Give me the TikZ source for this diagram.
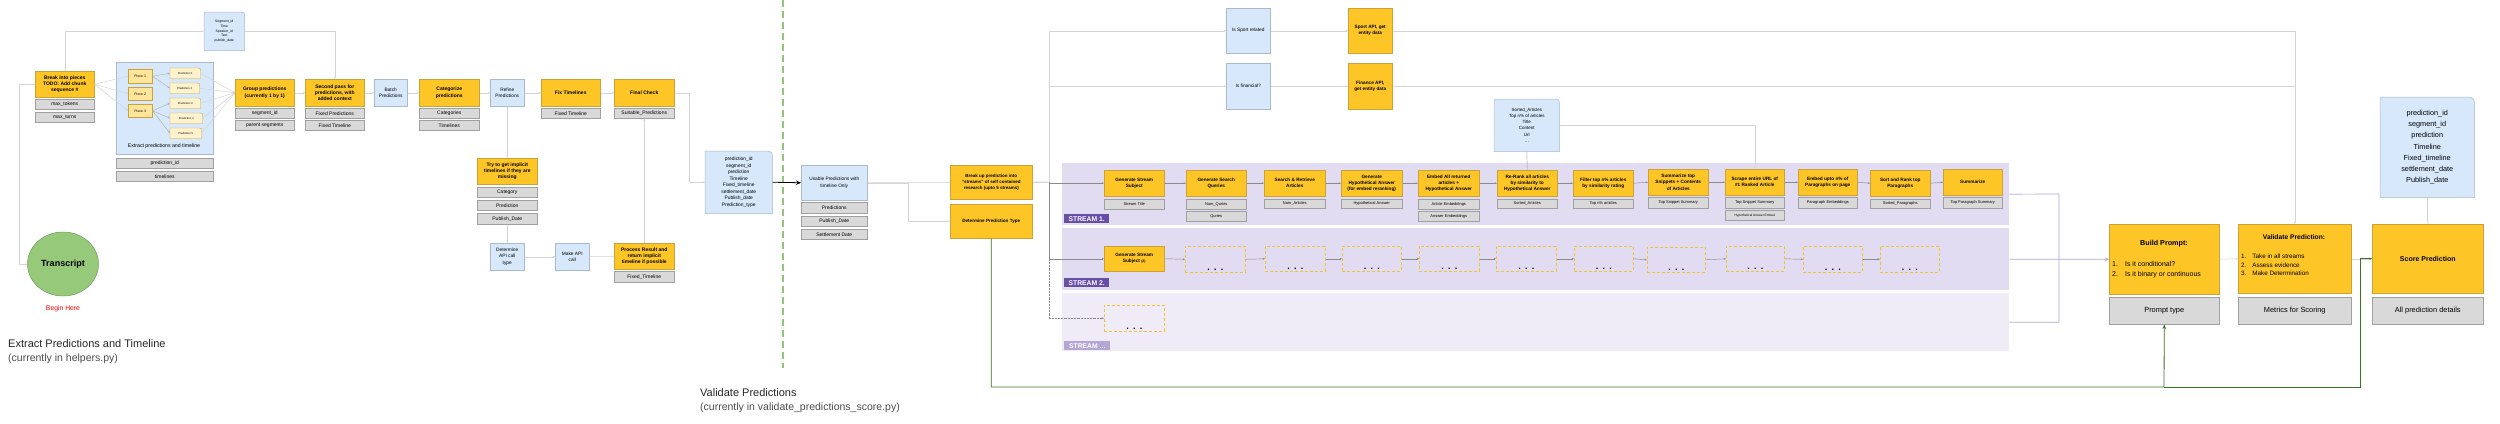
\documentclass[tikz,border=0pt]{standalone}
\usepackage{fontspec}
\setmainfont{Liberation Sans}
\usetikzlibrary{arrows.meta,shapes.geometric,backgrounds}

\definecolor{orF}{HTML}{FDC526}
\definecolor{orD}{HTML}{C9A33A}
\definecolor{grF}{HTML}{D9D9D9}
\definecolor{grD}{HTML}{A0A0A0}
\definecolor{blF}{HTML}{D7E8FB}
\definecolor{blD}{HTML}{A9B9CF}
\definecolor{pcF}{HTML}{FFE599}
\definecolor{pdF}{HTML}{FFF2CC}
\definecolor{bandA}{HTML}{E1DCF2}
\definecolor{bandB}{HTML}{EFECF7}
\definecolor{purD}{HTML}{674EA7}
\definecolor{purL}{HTML}{B4A7D6}
\definecolor{grnD}{HTML}{38761D}
\definecolor{grnL}{HTML}{93C47D}
\definecolor{lnL}{HTML}{D4D4D4}
\definecolor{lnM}{HTML}{8A8A8A}
\definecolor{dashO}{HTML}{F1C232}
\definecolor{cirF}{HTML}{97C97B}
\definecolor{cirD}{HTML}{6B9A55}

\newcommand\bx[7]{\node[#2,anchor=north west,minimum width={(#5-#3)*1pt},minimum height={(#6-#4)*1pt}] (#1) at (#3,#4) {#7};}
\newcommand\dbx[5]{\bx{#1}{dashbx}{#2}{#3}{#4}{#5}{}\node[dotsty,anchor=base] (#1dots) at ([yshift=2.5pt]#1.south) {.\hspace{4.3pt}.\hspace{4.3pt}.};}
\newcommand\noteout[2]{\draw[noteline] (#1.south west) -- (#1.north west) -- ([xshift=-#2pt]#1.north east) .. controls (#1.north east) .. ([yshift=-#2pt]#1.north east) -- (#1.south east) -- cycle;}
\newcommand\predout[1]{\draw[predline] (#1.south west) -- (#1.north west) -- ([xshift=-3pt]#1.north east) .. controls (#1.north east) .. ([yshift=-3pt]#1.north east) -- (#1.south east) -- cycle;}

\tikzset{
 basebx/.style={inner sep=0.5pt, align=center, line width=0.5pt},
 ob/.style={basebx, fill=orF, draw=orD, font=\fontsize{5}{6.3}\selectfont\bfseries},
 sob/.style={basebx, fill=orF, draw=orD, font=\fontsize{4.7}{6.1}\selectfont\bfseries},
 bob/.style={basebx, fill=orF, draw=orD, font=\fontsize{7}{9}\selectfont\bfseries},
 gb/.style={basebx, fill=grF, draw=grD, font=\fontsize{5}{6}\selectfont},
 sgb/.style={basebx, fill=grF, draw=grD, font=\fontsize{4}{5}\selectfont},
 bgb/.style={basebx, fill=grF, draw=grD, font=\fontsize{7.4}{9}\selectfont},
 bb/.style={basebx, fill=blF, draw=blD, font=\fontsize{4.8}{6.2}\selectfont},
 nt/.style={basebx, draw=none, fill=none},
 noteline/.style={fill=blF, draw=blD, line width=0.5pt},
 predline/.style={fill=pdF, draw=orD, line width=0.4pt},
 pcb/.style={basebx, fill=pcF, draw=orD, font=\fontsize{3.5}{4}\selectfont},
 pdb/.style={basebx, draw=none, fill=none, font=\fontsize{2.8}{3.5}\selectfont},
 dashbx/.style={basebx, draw=dashO, dash pattern=on 3pt off 2pt, line width=0.6pt},
 dotsty/.style={inner sep=0pt, font=\fontsize{9}{9}\selectfont\bfseries},
 bandbx/.style={inner sep=0pt, draw=none},
 slbl/.style={inner sep=0.5pt, text=white, font=\fontsize{6.8}{7}\selectfont\bfseries},
 tipsm/.style={-{Stealth[length=2.4pt,width=1.9pt]}},
 lnlight/.style={draw=lnL, line width=0.5pt, tipsm},
 lnmid/.style={draw=lnM, line width=0.45pt, tipsm},
 lnpd/.style={draw=lnM!70, line width=0.4pt, tipsm},
 lnpur/.style={draw=purL, line width=0.7pt},
 lngrn/.style={draw=grnD, line width=0.8pt},
}

\begin{document}
\begin{tikzpicture}[x=1pt,y=-1pt]
\begin{scope}[on background layer]\fill[white] (0,0) rectangle (2500,423);\end{scope}
\useasboundingbox (0,0) rectangle (2500,423);

% ---------------- stream bands ----------------
\bx{band1}{bandbx,fill=bandA}{1062}{163}{2009}{225}{}
\bx{band2}{bandbx,fill=bandA}{1062}{228}{2009}{290}{}
\bx{band3}{bandbx,fill=bandB}{1062}{293}{2009}{351}{}
\bx{lbl1}{slbl,fill=purD}{1064}{214}{1109}{223}{STREAM 1.}
\bx{lbl2}{slbl,fill=purD}{1064}{278}{1109}{287}{STREAM 2.}
\bx{lbl3}{slbl,fill=purL}{1064}{341}{1110}{350}{STREAM ...}

% ---------------- left part ----------------
\node[ellipse, fill=cirF, draw=cirD, line width=0.5pt, minimum width=71pt, minimum height=64pt, inner sep=0pt, font=\fontsize{9}{10}\selectfont\bfseries] (transcript) at (63,264) {Transcript};
\node[font=\fontsize{6.8}{8}\selectfont, text=red] (beginhere) at (63,309) {Begin Here};
\node[anchor=base west, inner sep=0pt, font=\fontsize{11}{13}\selectfont, text=black!85] (title1) at (8,347) {Extract Predictions and Timeline};
\node[anchor=base west, inner sep=0pt, font=\fontsize{10.5}{13}\selectfont, text=black!70] (sub1) at (8,361) {(currently in helpers.py)};

\bx{topnote}{nt,font=\fontsize{3.4}{4.6}\selectfont}{204}{12}{244}{50}{Segment\_id\\Time\\Speaker\_id\\Text\\publish\_date}
\bx{brk}{ob}{35}{71}{94}{97}{Break into pieces\\TODO: Add chunk\\sequence \#}
\bx{maxtok}{gb}{35}{99}{94}{109}{max\_tokens}
\bx{maxturn}{gb}{35}{112}{94}{122}{max\_turns}

\bx{cont}{basebx,fill=blF,draw=blD}{116}{62}{213}{154}{}
\node[font=\fontsize{5.2}{6}\selectfont, inner sep=0pt] (contlbl) at (164,146) {Extract predictions and timeline};
\bx{piece1}{pcb}{128}{69}{152}{83}{Piece 1}
\bx{piece2}{pcb}{128}{87}{152}{100}{Piece 2}
\bx{piece3}{pcb}{128}{104}{152}{117}{Piece 3}
\bx{pred1}{pdb}{170}{68}{200}{78}{}
\bx{pred2}{pdb}{170}{83}{199}{93}{}
\bx{pred3}{pdb}{170}{98}{200}{108}{}
\bx{pred4}{pdb}{170}{113}{202}{123}{}
\bx{pred5}{pdb}{170}{128}{201}{138}{}
\bx{predid}{gb}{116}{158}{213}{168}{prediction\_id}
\bx{timel}{gb}{116}{171}{213}{181}{timelines}

\bx{group}{ob}{235}{79}{294}{106}{Group predictions\\(currently 1 by 1)}
\bx{segid}{gb}{235}{108}{294}{118}{segment\_id}
\bx{parseg}{gb}{235}{120}{294}{130}{parent segments}
\bx{second}{ob}{305}{79}{364}{106}{Second pass for\\predictions, with\\added context}
\bx{fixpred}{gb}{305}{108}{364}{118}{Fixed Predictions}
\bx{fixtl}{gb}{305}{120}{364}{130}{Fixed Timeline}
\bx{batch}{bb}{374}{79}{407}{106}{Batch\\Predictions}
\bx{categ}{ob}{419}{79}{479}{106}{Categorize\\predictions}
\bx{categs}{gb}{419}{108}{479}{118}{Categories}
\bx{timel2}{gb}{419}{120}{479}{130}{Timelines}
\bx{refine}{bb}{490}{79}{524}{106}{Refine\\Predictions}
\bx{fixt}{ob}{541}{79}{600}{106}{Fix Timelines}
\bx{fixtl2}{gb}{541}{108}{600}{118}{Fixed Timeline}
\bx{final}{ob}{614}{79}{674}{106}{Final Check}
\bx{suitable}{gb}{614}{108}{674}{118}{Suitable\_Predictions}
\bx{try}{ob}{477}{158}{537}{184}{Try to get implicit\\timelines if they are\\missing}
\bx{cat}{gb}{477}{187}{537}{197}{Category}
\bx{predn}{gb}{477}{200}{537}{210}{Prediction}
\bx{pubd}{gb}{477}{213}{537}{224}{Publish\_Date}
\bx{detapi}{bb}{490}{243}{524}{270}{Determine\\API call\\type}
\bx{makeapi}{bb}{555}{243}{589}{270}{Make API\\call}
\bx{process}{ob}{614}{243}{674}{269}{Process Result and\\return implicit\\timeline if possible}
\bx{fixtl3}{gb}{614}{271}{674}{282}{Fixed\_Timeline}

\bx{bignote}{nt,font=\fontsize{4.9}{6.5}\selectfont}{705}{151}{772}{213}{prediction\_id\\segment\_id\\prediction\\Timeline\\Fixed\_timeline\\settlement\_date\\Publish\_date\\Prediction\_type}

\draw[grnL, line width=1.1pt, dash pattern=on 7pt off 4pt] (783,0) -- (783,368);
\node[anchor=base west, inner sep=0pt, font=\fontsize{11}{13}\selectfont, text=black!85] (title2) at (700,396) {Validate Predictions};
\node[anchor=base west, inner sep=0pt, font=\fontsize{10.5}{13}\selectfont, text=black!70] (sub2) at (700,410) {(currently in validate\_predictions\_score.py)};

% ---------------- middle ----------------
\bx{usable}{bb}{801}{165}{867}{200}{Usable Predictions with\\timeline Only}
\bx{upreds}{gb}{801}{202}{867}{213}{Predictions}
\bx{upub}{gb}{801}{216}{867}{226}{Publish\_Date}
\bx{uset}{gb}{801}{229}{867}{239}{Settlement Date}
\bx{breakup}{ob,font=\fontsize{4.5}{6.2}\selectfont\bfseries}{950}{165}{1032}{199}{Break up prediction into\\“streams” of self contained\\research (upto 5 streams)}
\bx{dettype}{ob,font=\fontsize{4.6}{6}\selectfont\bfseries}{950}{204}{1032}{238}{Determine Prediction Type}

\bx{issport}{bb}{1226}{8}{1270}{53}{Is Sport related}
\bx{isfin}{bb}{1226}{63}{1270}{109}{Is financial?}
\bx{sportapi}{sob}{1348}{8}{1392}{53}{Sport API, get\\entity data}
\bx{finapi}{sob}{1348}{63}{1392}{109}{Finance API,\\get entity data}

% stream 1
\bx{gss1}{sob}{1104}{170}{1164}{196}{Generate Stream\\Subject}
\bx{gsq}{sob}{1186}{170}{1246}{196}{Generate Search\\Queries}
\bx{sra}{sob}{1264}{170}{1325}{196}{Search \& Retrieve\\Articles}
\bx{gha}{sob}{1341}{170}{1402}{196}{Generate\\Hypothetical Answer\\(for embed reranking)}
\bx{ear}{sob}{1418}{170}{1479}{196}{Embed All returned\\articles +\\Hypothetical Answer}
\bx{rra}{sob}{1497}{170}{1557}{196}{Re-Rank all articles\\by similarity to\\Hypothetical Answer}
\bx{fta}{sob}{1573}{170}{1633}{196}{Filter top n\% articles\\by similarity rating}
\bx{sts}{sob}{1648}{169}{1708}{195}{Summarize top\\Snippets + Contents\\of Articles}
\bx{scr}{sob}{1725}{169}{1784}{195}{Scrape entire URL of\\\#1 Ranked Article}
\bx{eup}{sob}{1798}{169}{1857}{195}{Embed upto n\% of\\Paragraphs on page}
\bx{srp}{sob}{1870}{170}{1930}{196}{Sort and Rank top\\Paragraphs}
\bx{sum}{sob}{1943}{169}{2002}{195}{Summarize}

\bx{stitle}{sgb}{1104}{199}{1164}{209}{Stream Title}
\bx{numq}{sgb}{1186}{199}{1246}{209}{Num\_Quries}
\bx{quries}{sgb}{1186}{211}{1246}{221}{Quries}
\bx{numart}{sgb}{1264}{199}{1325}{208}{Num\_Articles}
\bx{hypans}{sgb}{1341}{199}{1402}{208}{Hypothetical Answer}
\bx{artemb}{sgb}{1418}{199}{1479}{209}{Article Embeddings}
\bx{ansemb}{sgb}{1418}{211}{1479}{221}{Answer Embeddings}
\bx{sortart}{sgb}{1497}{199}{1557}{208}{Sorted\_Articles}
\bx{topn}{sgb}{1573}{199}{1633}{208}{Top n\% articles}
\bx{tss1}{sgb}{1648}{197}{1708}{208}{Top Snippet Summary}
\bx{tss2}{sgb}{1725}{197}{1784}{208}{Top Snippet Summary}
\bx{hae}{sgb,font=\fontsize{3.2}{4}\selectfont}{1725}{210}{1784}{220}{Hypothetical Answer Embed}
\bx{paremb}{sgb}{1798}{197}{1857}{208}{Paragraph Embeddings}
\bx{sortpar}{sgb}{1870}{199}{1930}{208}{Sorted\_Paragraphs}
\bx{toppar}{sgb}{1943}{197}{2002}{208}{Top Paragraph Summary}

\bx{sortnote}{nt,font=\fontsize{4.5}{6.2}\selectfont}{1494}{99}{1559}{151}{Sorted\_Articles\\Top n\% of articles\\Title\\Content\\Url\\…}

% stream 2
\bx{gss2}{sob}{1104}{246}{1164}{271}{Generate Stream\\Subject {\fontsize{3.5}{4}\selectfont(2)}}
\dbx{da}{1185}{246}{1245}{272}
\dbx{db}{1265}{246}{1325}{271}
\dbx{dc}{1342}{246}{1401}{271}
\dbx{dd}{1419}{246}{1479}{271}
\dbx{de}{1496}{246}{1556}{271}
\dbx{df}{1574}{246}{1633}{271}
\dbx{dg}{1647}{247}{1705}{272}
\dbx{dh}{1726}{246}{1784}{271}
\dbx{di}{1803}{246}{1862}{272}
\dbx{dj}{1880}{246}{1939}{272}
% stream 3
\dbx{ds}{1104}{305}{1164}{331}

% ---------------- right ----------------
\bx{build}{bob}{2109}{224}{2219}{294}{}
\node[font=\fontsize{7.2}{9}\selectfont\bfseries, inner sep=0pt] (buildt) at (2164,244) {Build Prompt:};
\node[anchor=north west, inner sep=0pt, font=\fontsize{7}{10}\selectfont] (buildl) at (2112,259) {\begin{tabular}{@{}l@{\hspace{7pt}}l@{}}1.&Is it conditional?\\2.&Is it binary or continuous\end{tabular}};
\bx{ptype}{bgb}{2109}{297}{2219}{324}{Prompt type}
\bx{valid}{bob}{2238}{224}{2351}{293}{}
\node[font=\fontsize{6.7}{9}\selectfont\bfseries, inner sep=0pt] (validt) at (2294,237) {Validate Prediction:};
\node[anchor=north west, inner sep=0pt, font=\fontsize{6.3}{8.8}\selectfont] (validl) at (2241,252) {\begin{tabular}{@{}l@{\hspace{6pt}}l@{}}1.&Take in all streams\\2.&Assess evidence\\3.&Make Determination\end{tabular}};
\bx{metrics}{bgb}{2238}{297}{2351}{324}{Metrics for Scoring}
\bx{score}{bob}{2372}{224}{2483}{293}{Score Prediction}
\bx{alldet}{bgb}{2372}{297}{2483}{324}{All prediction details}
\bx{scorenote}{nt,font=\fontsize{7.3}{11.2}\selectfont}{2380}{97}{2474}{197}{prediction\_id\\segment\_id\\prediction\\Timeline\\Fixed\_timeline\\settlement\_date\\Publish\_date}

% ---------------- note outlines ----------------
\begin{scope}[on background layer]
\noteout{topnote}{5}
\noteout{bignote}{10}
\noteout{sortnote}{8}
\noteout{scorenote}{13}
\end{scope}
\foreach \p in {pred1,pred2,pred3,pred4,pred5}{\predout{\p}}
\foreach \p/\t in {pred1/Prediction 1,pred2/Prediction 2,pred3/Prediction 3,pred4/Prediction 4,pred5/Prediction 5}{\node[pdb] (\p txt) at (\p.center) {\t};}

% ---------------- connectors ----------------
\draw[lnlight] (transcript.west) -- ++(-8,0) |- (brk.west);
\draw[lnlight] (brk.north) |- (topnote.west);
\draw[lnlight] (topnote.east) -| (second.north);
\foreach \t in {piece1,piece2,piece3}{\draw[lnlight] (brk.east) -- (\t.west);}
\draw[lnpd] (piece1.east) -- (pred1.west);
\draw[lnpd] (piece1.east) -- (pred2.west);
\draw[lnpd] (piece3.east) -- (pred3.west);
\draw[lnpd] (piece3.east) -- (pred4.west);
\draw[lnpd] (piece3.east) -- (pred5.west);
\foreach \t in {pred1,pred2,pred3,pred4,pred5}{\draw[lnlight] (\t.east) -- (group.west);}
\draw[lnlight] (group.east) -- (second.west);
\draw[lnlight] (second.east) -- (batch.west);
\draw[lnlight] (batch.east) -- (categ.west);
\draw[lnlight] (categ.east) -- (refine.west);
\draw[lnlight] (refine.east) -- (fixt.west);
\draw[lnlight] (fixt.east) -- (final.west);
\draw[lnlight] (refine.south) -- (try.north);
\draw[lnlight] (pubd.south) -- (detapi.north);
\draw[lnlight] (detapi.east) -- (makeapi.west);
\draw[lnlight] (makeapi.east) -- (process.west);
\draw[lnlight] (process.north) -- (suitable.south);
\draw[lnlight] (final.east) -- ++(15,0) |- (bignote.west);
\draw[black, line width=0.8pt, -{Stealth[length=5pt,width=4.5pt]}] (bignote.east) -- (usable.west);
\draw[lnlight] (usable.east) -- (breakup.west);
\draw[lnlight] (usable.east) -- ++(41,0) |- (dettype.west);

\coordinate (hub) at (1049,182);
\draw[lnM, line width=0.45pt] (breakup.east) -- (hub);
\draw[lnmid] (hub) |- (gss1.west);
\draw[lnlight] (hub) |- (issport.west);
\draw[lnlight] (hub) |- (isfin.west);
\draw[lnmid] (hub) |- (gss2.west);
\draw[lnmid, densely dotted] (hub) |- (ds.west);
\draw[lnlight] (issport.east) -- (sportapi.west);
\draw[lnlight] (isfin.east) -- (finapi.west);
\draw[lnlight] (sportapi.east) -| (valid.north);
\draw[lnlight] (finapi.east) -| (valid.north);

\foreach \a/\b in {gss1/gsq,gsq/sra,sra/gha,gha/ear,ear/rra,rra/fta,fta/sts,sts/scr,scr/eup,eup/srp,srp/sum}{\draw[lnmid] (\a.east) -- (\b.west);}
\draw[lnM!80, line width=0.45pt] (rra.north) -- (sortnote.south);
\draw[lnlight] (sortnote.east) -| (scr.north);
\foreach \a/\b in {gss2/da,da/db,db/dc,dc/dd,dd/de,de/df,df/dg,dg/dh,dh/di,di/dj}{\draw[lnmid] (\a.east) -- (\b.west);}

\draw[lnpur] (band1.east) -- (2059,194) |- (band3.east);
\draw[lnpur, -{Stealth[length=4pt,width=3.5pt]}] (band2.east) -- (build.west);
\draw[lnlight] (build.east) -- (valid.west);
\draw[lnlight] (valid.east) -- (score.west);
\draw[grD!70, line width=0.5pt] (scorenote.south) -- (score.north);

\coordinate (gj) at (2164,387);
\draw[lngrn, -{Stealth[length=4.5pt,width=3.5pt]}] (dettype.south) |- (gj) -- (ptype.south);
\draw[lngrn, -{Stealth[length=2.5pt,width=2pt]}] (gj) -- (2360,387) |- (score.west);
\end{tikzpicture}
\end{document}
